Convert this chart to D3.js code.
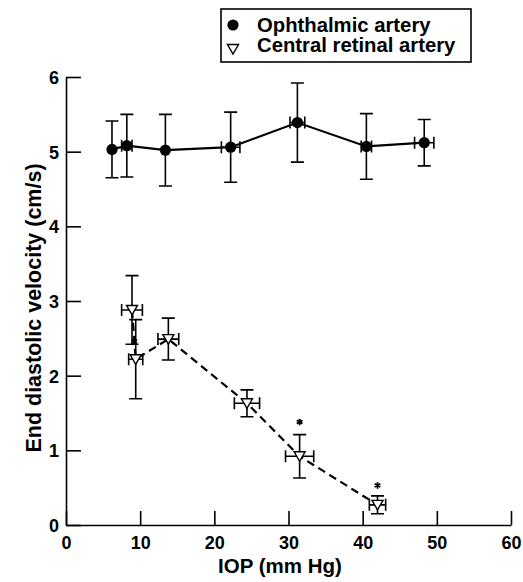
<!DOCTYPE html>
<html>
<head>
<meta charset="utf-8">
<script src="https://cdn.jsdelivr.net/npm/d3@7"></script>
<style>
    body { margin: 0; background: #fff; }
    svg text { font-family: "Liberation Sans", Arial, sans-serif; font-weight: bold; fill: #000; }
</style>
</head>
<body>
<div id="chart"></div>
<script>
// ophthalmic artery (mean, sd)
const ophIop = [6.2, 8.2, 13.4, 22.2, 31.2, 40.5, 48.3];
const ophIopSd = [0, 0.7, 0, 1.25, 1.0, 0.7, 1.3];
const ophVel = [5.03, 5.08, 5.02, 5.06, 5.39, 5.07, 5.12];
const ophVelSd = [0.38, 0.42, 0.48, 0.47, 0.53, 0.44, 0.31];

// central retinal artery
const craIop = [8.9, 9.4, 13.8, 24.4, 31.5, 42.0];
const craIopSd = [1.4, 0.95, 1.4, 1.7, 1.9, 1.1];
const craVel = [2.88, 2.22, 2.49, 1.63, 0.92, 0.27];
const craVelSd = [0.46, 0.53, 0.28, 0.18, 0.29, 0.12];
// significance stars (x, y)
const starIop = [9.2, 31.5, 42.0];
const starVel = [2.46, 1.38, 0.53];

const xTicks = [0, 10, 20, 30, 40, 50, 60];
const yTicks = [0, 1, 2, 3, 4, 5, 6];
const legendLabels = ["Ophthalmic artery", "Central retinal artery"];

const width = 523, height = 582;
const margin = {top: 77, right: 12, bottom: 57, left: 66};

const svg = d3.select("#chart").append("svg")
    .attr("width", width)
    .attr("height", height);

const x = d3.scaleLinear().domain([0, 60]).range([margin.left, width - margin.right]);
const y = d3.scaleLinear().domain([0, 6]).range([height - margin.bottom, margin.top]);

// axes, ticks pointing inward
svg.append("g")
    .attr("transform", "translate(0," + y(0) + ")")
    .call(d3.axisBottom(x).tickValues(xTicks).tickFormat(d3.format("d")).tickSizeInner(-14).tickSizeOuter(0))
    .call(g => g.select(".domain").attr("stroke-width", 1.6))
    .call(g => g.selectAll(".tick line").attr("stroke-width", 1.6))
    .call(g => g.selectAll(".tick text").attr("font-size", 18).attr("dy", "0.71em").attr("y", 11));

svg.append("g")
    .attr("transform", "translate(" + x(0) + ",0)")
    .call(d3.axisLeft(y).tickValues(yTicks).tickFormat(d3.format("d")).tickSizeInner(-15).tickSizeOuter(0))
    .call(g => g.select(".domain").attr("stroke-width", 1.6))
    .call(g => g.selectAll(".tick line").attr("stroke-width", 1.6))
    .call(g => g.selectAll(".tick text").attr("font-size", 18).attr("x", -7).attr("dy", "0.36em"));

svg.selectAll(".domain, .tick line").attr("stroke", "#000");

svg.append("text")
    .attr("x", 280)
    .attr("y", 573)
    .attr("text-anchor", "middle")
    .attr("font-size", 20.5)
    .text("IOP (mm Hg)");

svg.append("text")
    .attr("transform", "translate(41,308) rotate(-90)")
    .attr("text-anchor", "middle")
    .attr("font-size", 21.5)
    .text("End diastolic velocity (cm/s)");

function errorBars(g, xs, xsd, ys, ysd) {
    const capV = 6.5, capH = 6;
    xs.forEach((xv, i) => {
        const cx = x(xv), cy = y(ys[i]);
        const top = y(ys[i] + ysd[i]), bot = y(ys[i] - ysd[i]);
        let p = d3.path();
        p.moveTo(cx, top); p.lineTo(cx, bot);
        p.moveTo(cx - capV, top); p.lineTo(cx + capV, top);
        p.moveTo(cx - capV, bot); p.lineTo(cx + capV, bot);
        if (xsd[i] > 0) {
            const l = x(xv - xsd[i]), r = x(xv + xsd[i]);
            p.moveTo(l, cy); p.lineTo(r, cy);
            p.moveTo(l, cy - capH); p.lineTo(l, cy + capH);
            p.moveTo(r, cy - capH); p.lineTo(r, cy + capH);
        }
        g.append("path")
            .attr("d", p.toString())
            .attr("fill", "none")
            .attr("stroke", "#000")
            .attr("stroke-width", 1.6);
    });
}

const ophG = svg.append("g");
const craG = svg.append("g");
errorBars(ophG, ophIop, ophIopSd, ophVel, ophVelSd);
errorBars(craG, craIop, craIopSd, craVel, craVelSd);

const line = d3.line().x(d => x(d[0])).y(d => y(d[1]));

ophG.append("path")
    .attr("d", line(d3.zip(ophIop, ophVel)))
    .attr("fill", "none")
    .attr("stroke", "#000")
    .attr("stroke-width", 2.2);

craG.append("path")
    .attr("d", line(d3.zip(craIop, craVel)))
    .attr("fill", "none")
    .attr("stroke", "#000")
    .attr("stroke-width", 2.2)
    .attr("stroke-dasharray", "8,5");

const circle = d3.symbol().type(d3.symbolCircle).size(Math.PI * 5.6 * 5.6);
// downward open triangle
const triPath = "M-5.5,-4.5L5.5,-4.5L0,5Z";

ophG.selectAll("path.dot")
    .data(d3.zip(ophIop, ophVel))
    .join("path")
    .attr("class", "dot")
    .attr("transform", d => "translate(" + x(d[0]) + "," + y(d[1]) + ")")
    .attr("d", circle())
    .attr("fill", "#000");

craG.selectAll("path.tri")
    .data(d3.zip(craIop, craVel))
    .join("path")
    .attr("class", "tri")
    .attr("transform", d => "translate(" + x(d[0]) + "," + y(d[1]) + ")")
    .attr("d", triPath)
    .attr("fill", "#fff")
    .attr("stroke", "#000")
    .attr("stroke-width", 1.4);

const star = d3.symbol().type(d3.symbolAsterisk).size(30);
svg.append("g").selectAll("path")
    .data(d3.zip(starIop, starVel))
    .join("path")
    .attr("transform", d => "translate(" + x(d[0]) + "," + y(d[1]) + ")")
    .attr("d", star())
    .attr("fill", "none")
    .attr("stroke", "#000")
    .attr("stroke-width", 1.8);

// legend
const legend = svg.append("g");
legend.append("rect")
    .attr("x", 221).attr("y", 9)
    .attr("width", 250).attr("height", 53)
    .attr("fill", "#fff")
    .attr("stroke", "#000")
    .attr("stroke-width", 1.6);

legend.append("path")
    .attr("transform", "translate(233,25)")
    .attr("d", circle())
    .attr("fill", "#000");

legend.append("path")
    .attr("transform", "translate(233,49)")
    .attr("d", triPath)
    .attr("fill", "#fff")
    .attr("stroke", "#000")
    .attr("stroke-width", 1.4);

legend.selectAll("text")
    .data(legendLabels)
    .join("text")
    .attr("x", 257)
    .attr("y", (d, i) => 31.5 + i * 20.5)
    .attr("font-size", 20.3)
    .text(d => d);
</script>
</body>
</html>
